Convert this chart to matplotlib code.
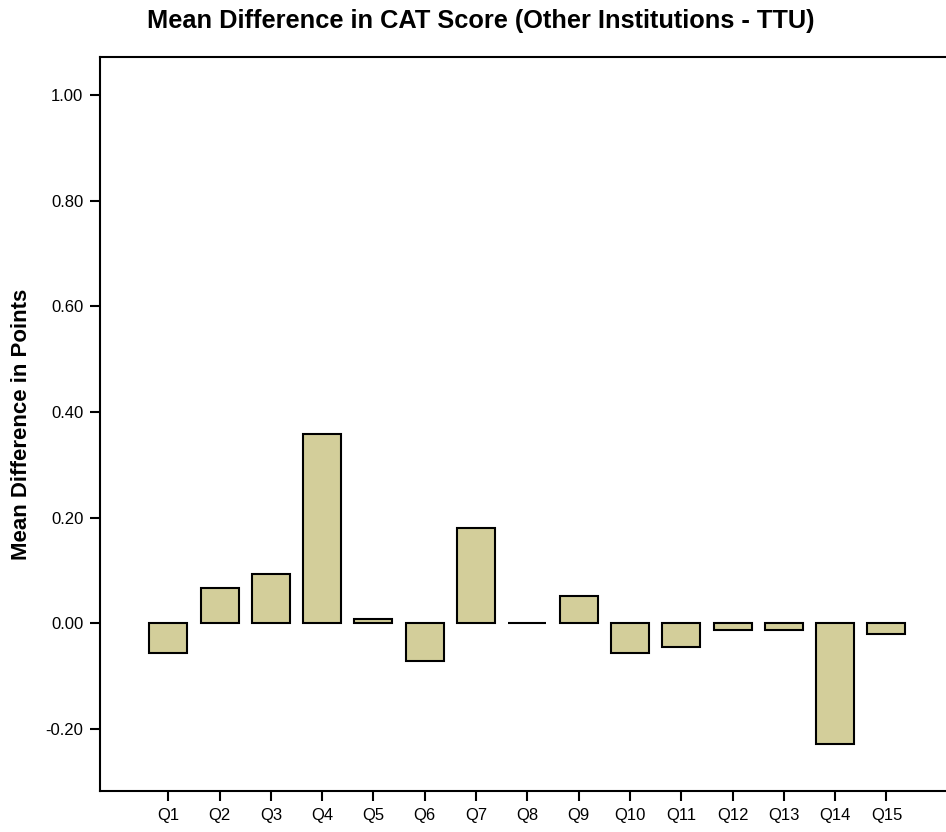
import numpy as np
import matplotlib
matplotlib.use("Agg")
import matplotlib.pyplot as plt

plt.rcParams['font.family'] = ['Liberation Sans', 'DejaVu Sans']

# values
questions = ['Q1', 'Q2', 'Q3', 'Q4', 'Q5', 'Q6', 'Q7', 'Q8', 'Q9', 'Q10',
             'Q11', 'Q12', 'Q13', 'Q14', 'Q15']
mean_diff = [-0.056, 0.067, 0.093, 0.358, 0.008, -0.072, 0.180, 0.001, 0.051,
             -0.056, -0.044, -0.012, -0.012, -0.228, -0.020]
y_ticks = [-0.20, 0.00, 0.20, 0.40, 0.60, 0.80, 1.00]

W, H = 946, 832
fig = plt.figure(figsize=(W / 100, H / 100), dpi=100)
ax = fig.add_axes([100 / W, 1 - 791 / H, 848 / W, (791 - 57) / H])

x = np.arange(len(questions))
ax.bar(x, mean_diff, width=0.74, color='#d3ce9a', edgecolor='black', linewidth=1.5)

ax.set_xlim(-1.33, 15.2)
ax.set_ylim(-0.3175, 1.072)
ax.set_xticks(x)
ax.set_xticklabels(questions)
ax.set_yticks(y_ticks)
ax.set_yticklabels(['%.2f' % v for v in y_ticks])
ax.tick_params(direction='out', length=7, width=1.5, labelsize=12, pad=5)
for s in ['left', 'bottom', 'top']:
    ax.spines[s].set_linewidth(1.5)
ax.spines['right'].set_visible(False)

ax.set_ylabel('Mean Difference in Points', fontsize=16, fontweight='bold', labelpad=10)
fig.text(481 / W, 1 - 21 / H, 'Mean Difference in CAT Score (Other Institutions - TTU)',
         ha='center', va='center', fontsize=18.3, fontweight='bold')

fig.savefig('out.png', dpi=100)
